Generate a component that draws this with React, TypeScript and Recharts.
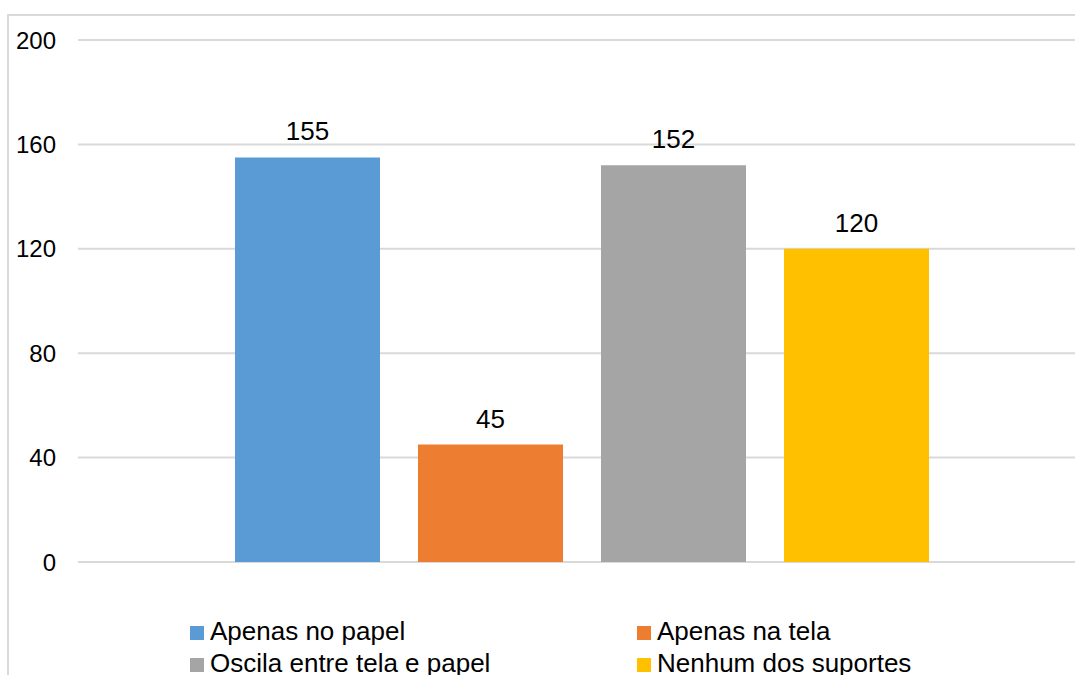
import React from 'react';
import { BarChart, Bar, XAxis, YAxis, CartesianGrid, Legend, LabelList } from 'recharts';

const categories = [''];
const seriesNames = ['Apenas no papel', 'Apenas na tela', 'Oscila entre tela e papel', 'Nenhum dos suportes'];
const seriesKeys = ['papel', 'tela', 'oscila', 'nenhum'];
const papelValues = [155];
const telaValues = [45];
const oscilaValues = [152];
const nenhumValues = [120];
const seriesColors = ['#5B9BD5', '#ED7D31', '#A5A5A5', '#FFC000'];
const yTicks = [0, 40, 80, 120, 160, 200];

const data = categories.map((c, i) => ({
  name: c,
  papel: papelValues[i],
  tela: telaValues[i],
  oscila: oscilaValues[i],
  nenhum: nenhumValues[i],
}));

const FONT = '"Liberation Sans", Arial, sans-serif';

const legendOrder = [0, 1, 2, 3];
const colLeft = [190, 637];
const rowTop = [626, 658];

const LegendContent = () => (
  <div style={{ position: 'relative', width: 1075, height: 80 }}>
    {legendOrder.map((idx, k) => {
      const col = k % 2;
      const row = Math.floor(k / 2);
      const mTop = rowTop[row] - 600;
      return (
        <React.Fragment key={idx}>
          <div
            style={{
              position: 'absolute',
              left: colLeft[col],
              top: mTop,
              width: 14,
              height: 14,
              background: seriesColors[idx],
            }}
          />
          <div
            style={{
              position: 'absolute',
              left: colLeft[col] + 20,
              top: mTop - 8,
              fontFamily: FONT,
              fontSize: 26,
              lineHeight: '26px',
              color: '#000',
              whiteSpace: 'nowrap',
            }}
          >
            {seriesNames[idx]}
          </div>
        </React.Fragment>
      );
    })}
  </div>
);

export default function App() {
  return (
    <div
      style={{
        position: 'absolute',
        left: 0,
        top: 0,
        width: 1075,
        height: 675,
        overflow: 'hidden',
        background: '#fff',
      }}
    >
      <div
        style={{
          position: 'absolute',
          left: 7,
          top: 14,
          width: 1200,
          height: 800,
          border: '2px solid #d9d9d9',
          boxSizing: 'border-box',
        }}
      />
      <div style={{ position: 'absolute', left: 0, top: 0 }}>
        <BarChart
          width={1100}
          height={642}
          data={data}
          margin={{ top: 40, right: 15, left: 0, bottom: 0 }}
          barSize={145}
          barGap={38}
          barCategoryGap={0}
        >
          <CartesianGrid horizontal vertical={false} stroke="#d9d9d9" strokeWidth={2} />
          <XAxis dataKey="name" hide />
          <YAxis
            domain={[0, 200]}
            ticks={yTicks}
            width={78}
            axisLine={false}
            tickLine={false}
            tickSize={0}
            tickMargin={22}
            tick={{ fill: '#000', fontSize: 24, fontFamily: FONT }}
          />
          <Legend
            verticalAlign="bottom"
            content={<LegendContent />}
            wrapperStyle={{ position: 'absolute', left: 0, top: 600, bottom: 'auto', width: 1075, height: 80 }}
          />
          {seriesKeys.map((k, i) => (
            <Bar key={k} dataKey={k} name={seriesNames[i]} fill={seriesColors[i]} isAnimationActive={false}>
              <LabelList
                dataKey={k}
                position="top"
                offset={17}
                style={{ fill: '#000', fontSize: 26, fontFamily: FONT }}
              />
            </Bar>
          ))}
        </BarChart>
      </div>
    </div>
  );
}
